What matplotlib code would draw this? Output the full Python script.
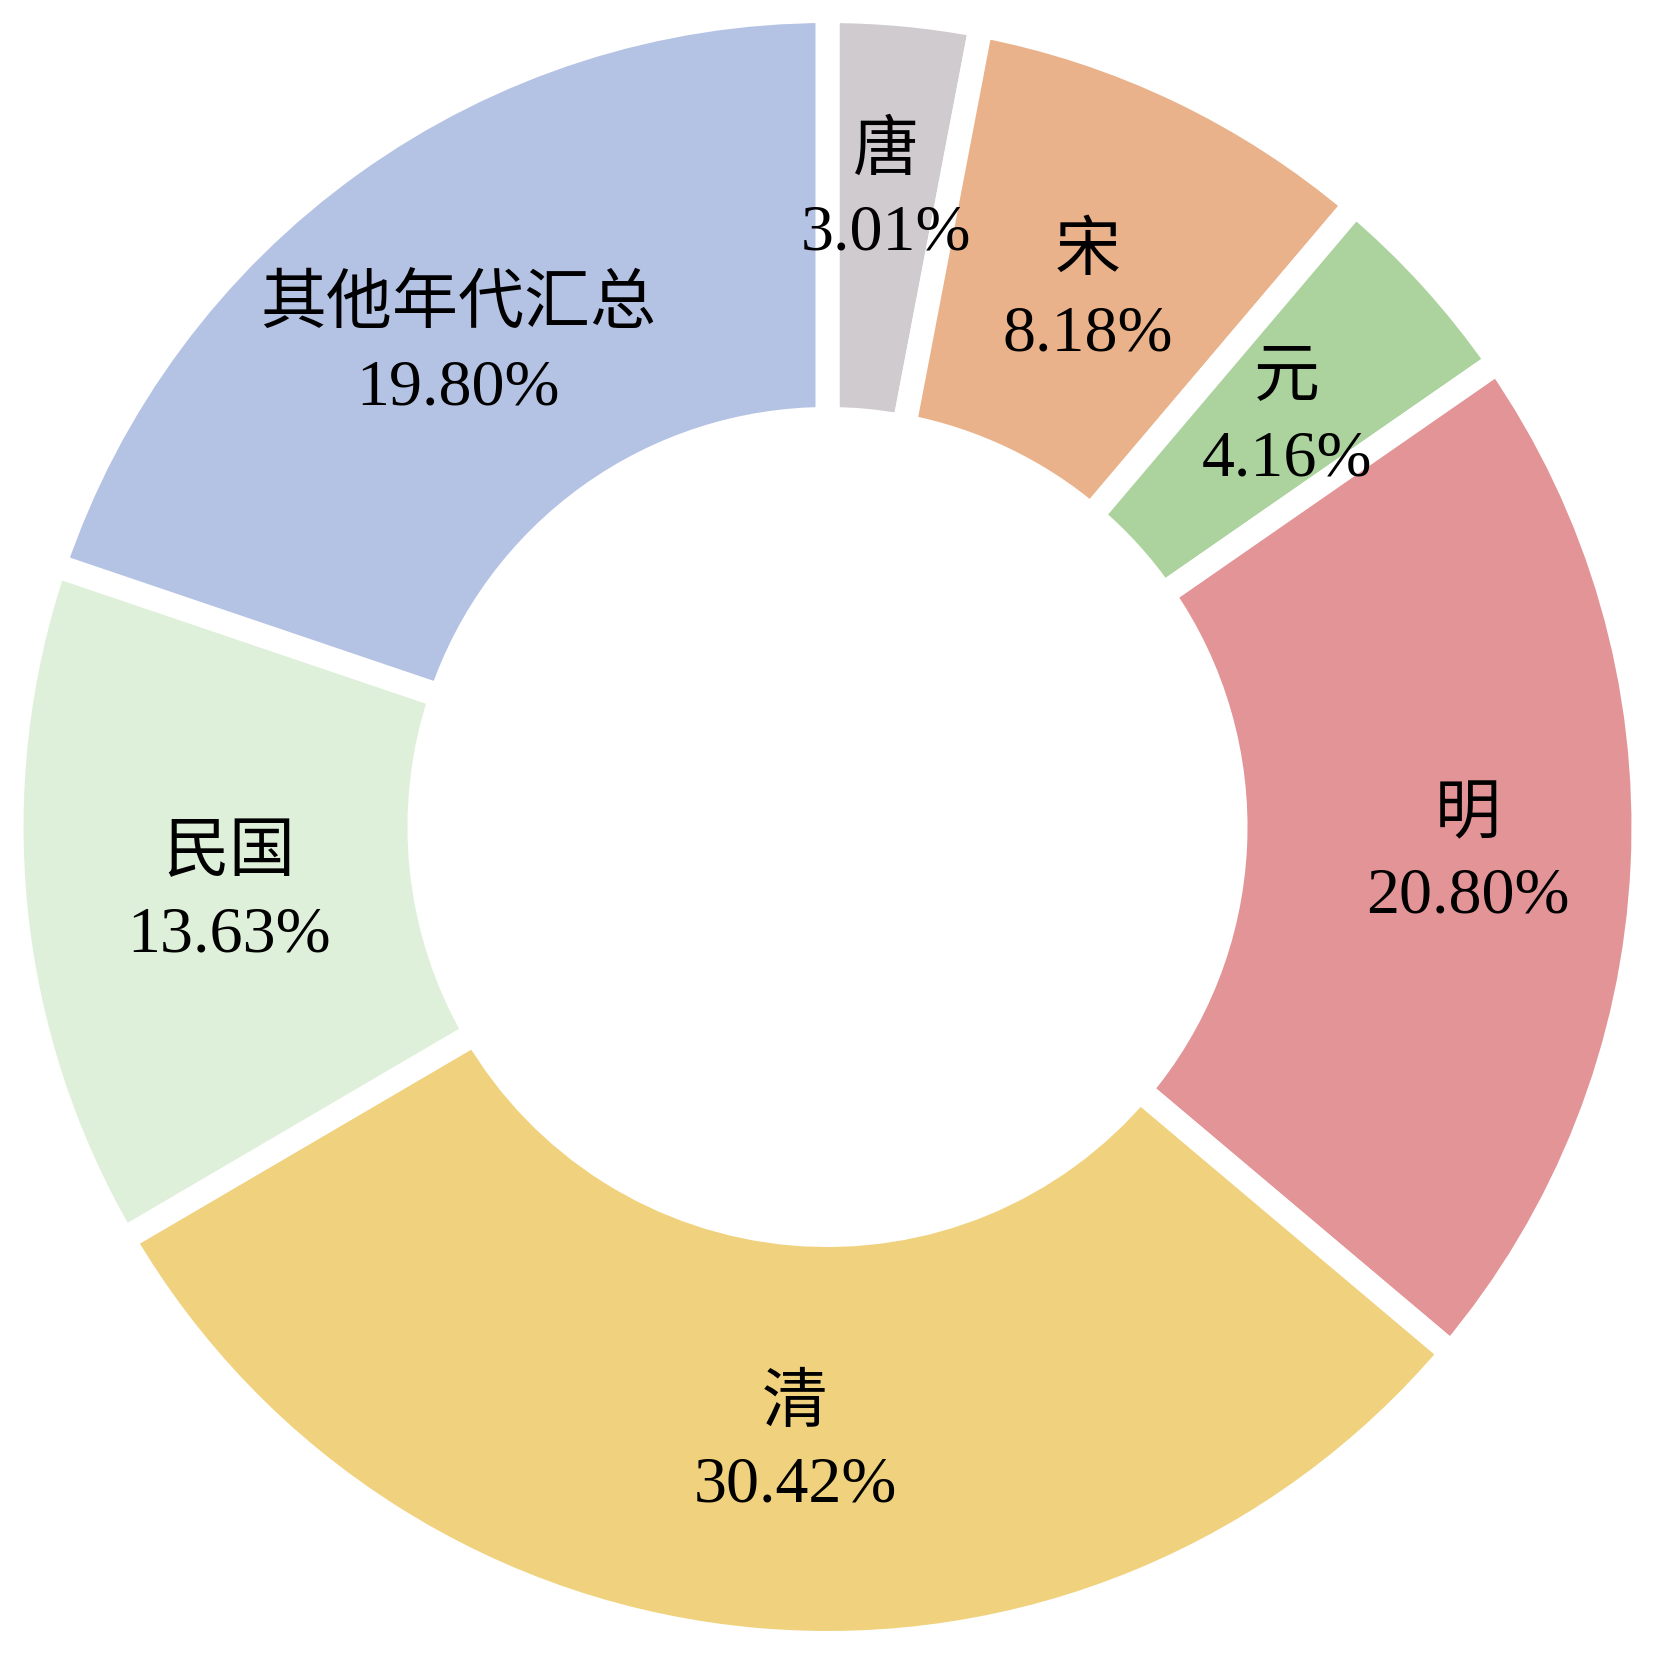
import matplotlib
matplotlib.use('Agg')
import matplotlib.pyplot as plt

plt.rcParams['font.family'] = ['Liberation Serif', 'Noto Sans CJK SC', 'DejaVu Sans']

# dynasty shares (%)
dynasties = ['唐', '宋', '元', '明', '清', '民国', '其他年代汇总']
shares = [3.01, 8.18, 4.16, 20.80, 30.42, 13.63, 19.80]
colors = ['#D0CBCF', '#EAB28A', '#ACD29E', '#E39497', '#F0D27E', '#DFF0DA', '#B4C2E4']

# small hand nudges of the labels (data units), layout only
label_nudge = [(0.0, 0.022), (-0.009, -0.031), (0.0, -0.01), (0.026, 0.0),
               (0.025, 0.0), (0.023, -0.006), (-0.010, -0.029)]

labels = [f'{d}\n{s:.2f}%' for d, s in zip(dynasties, shares)]

fig = plt.figure(figsize=(16.55, 16.56), dpi=100)
ax = fig.add_axes([0, 0, 1, 1])

wedges, texts = ax.pie(
    shares,
    labels=labels,
    colors=colors,
    startangle=90,
    counterclock=False,
    radius=1.0,
    labeldistance=0.76,
    wedgeprops=dict(width=0.5, edgecolor='white', linewidth=17.3),
    textprops=dict(fontsize=47.5, color='black'),
)
for t, (dx, dy) in zip(texts, label_nudge):
    x, y = t.get_position()
    t.set_position((x + dx, y + dy))
    t.set_horizontalalignment('center')
    t.set_verticalalignment('center')
    t.set_multialignment('center')
    t.set_linespacing(1.45)

ax.set_xlim(-1.0141, 1.0141)
ax.set_ylim(-1.0147, 1.0147)
ax.set_aspect('auto')
ax.axis('off')

fig.savefig('out.png', dpi=100, facecolor='white')
